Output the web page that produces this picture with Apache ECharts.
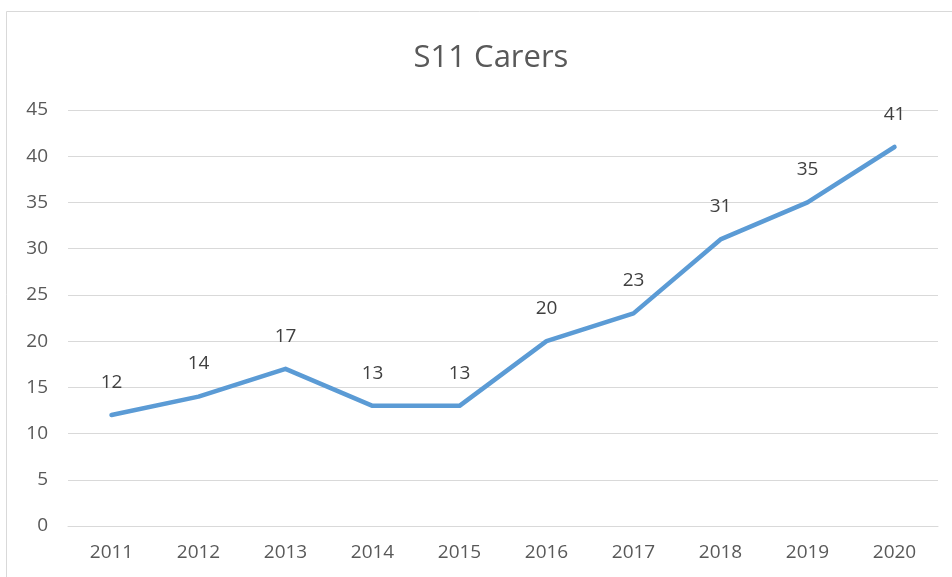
<!DOCTYPE html>
<html><head><meta charset="utf-8">
<script src="https://cdn.jsdelivr.net/npm/echarts@6/dist/echarts.min.js"></script>
<style>html,body{margin:0;padding:0;background:#fff}#c{width:952px;height:577px}</style>
</head><body><div id="c"></div>
<script>
const categories = ['2011','2012','2013','2014','2015','2016','2017','2018','2019','2020'];
const values = [12,14,17,13,13,20,23,31,35,41];
const titleText = 'S11 Carers';
const chart = echarts.init(document.getElementById('c'));
chart.setOption({
  animation: false,
  backgroundColor: '#fff',
  graphic: [{type:'rect', shape:{x:6.5,y:11.5,width:960,height:600}, style:{fill:'none',stroke:'#d9d9d9',lineWidth:1}, silent:true}],
  title: {text: titleText, left: 486, top: 38, textAlign: 'center',
    textStyle:{fontFamily:'Open Sans', fontSize:31, fontWeight:'normal', color:'#595959'}},
  grid: {left:68, right:14, top:110, bottom:51, containLabel:false},
  xAxis: {type:'category', data:categories, boundaryGap:true,
    axisLine:{show:true,lineStyle:{color:'#d9d9d9'}}, axisTick:{show:false},
    axisLabel:{fontFamily:'Open Sans', fontSize:19, color:'#595959', margin:17}},
  yAxis: {type:'value', min:0, max:45, interval:5,
    axisLine:{show:false}, axisTick:{show:false},
    splitLine:{lineStyle:{color:'#d9d9d9'}},
    axisLabel:{fontFamily:'Open Sans', fontSize:19, color:'#595959', margin:20}},
  series: [{type:'line', data:values, symbol:'circle', symbolSize:2, showSymbol:true,
    itemStyle:{color:'#5B9BD5'},
    lineStyle:{color:'#5B9BD5', width:4.5, cap:'round', join:'round'},
    label:{show:true, position:'top', distance:22, fontFamily:'Open Sans', fontSize:19, color:'#404040'}}]
});
</script></body></html>
